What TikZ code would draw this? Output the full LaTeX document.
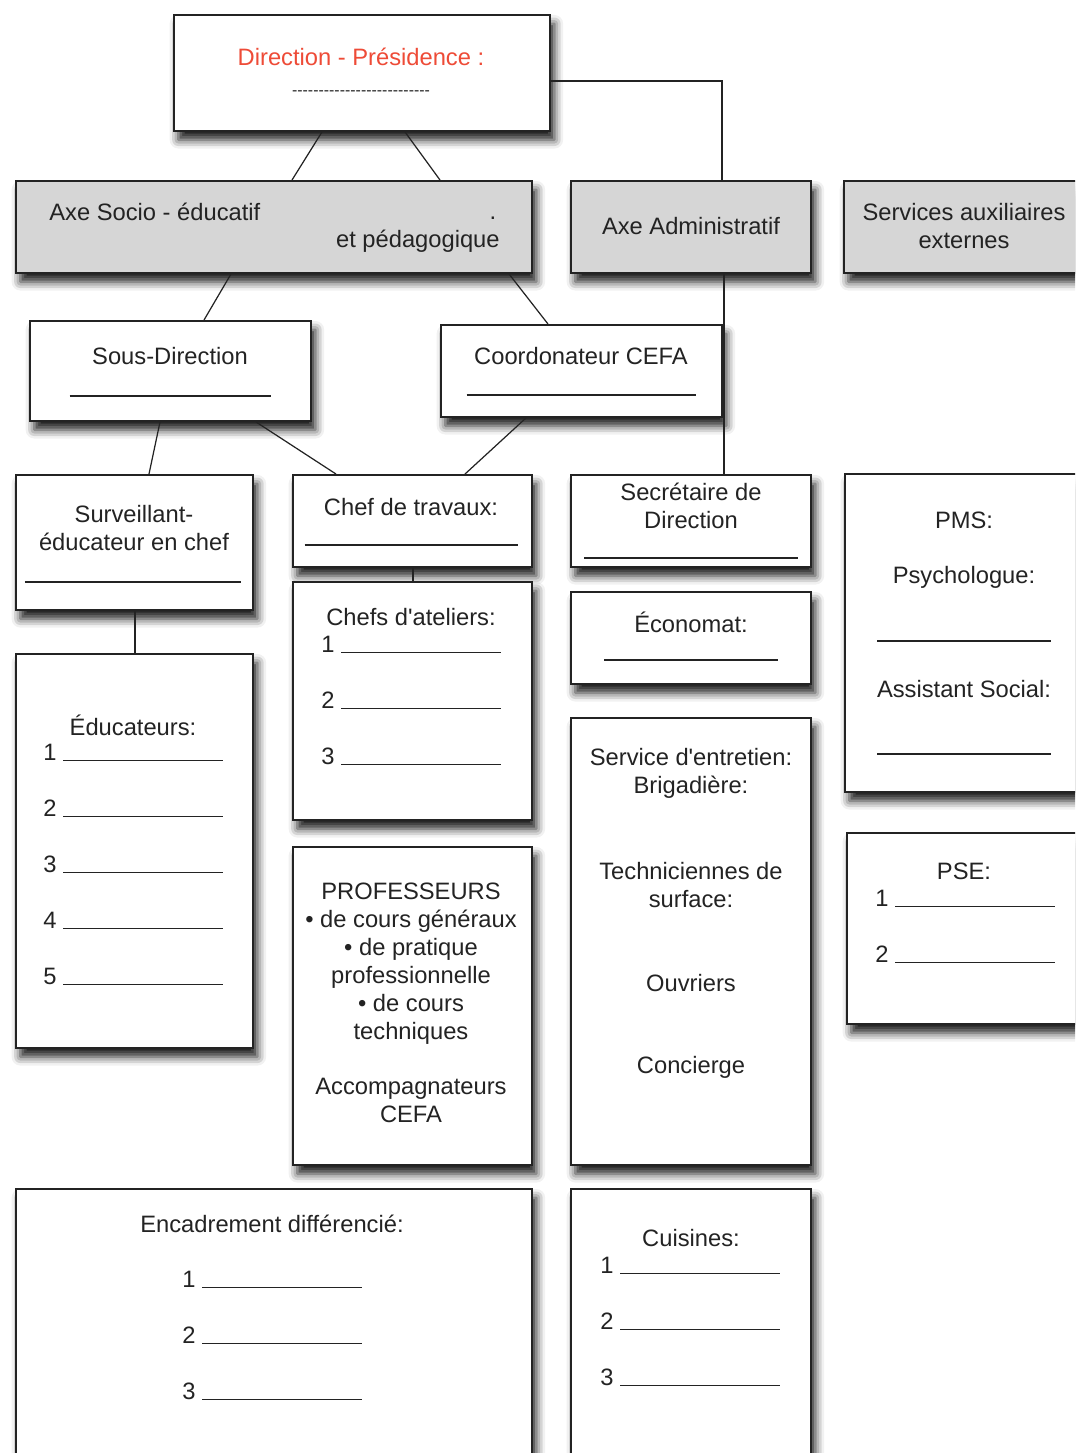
\documentclass[tikz,border=0pt]{standalone}
\usepackage{fontspec}
\setmainfont{Liberation Sans}
\usepackage{tikz}
\usetikzlibrary{positioning,fit,shadows.blur}
\definecolor{orgred}{RGB}{238,75,55}
\definecolor{orggrey}{RGB}{214,214,214}
\definecolor{orgink}{RGB}{35,35,35}
\newlength\pxu
\setlength\pxu{0.02cm}
\newcommand{\blankrule}[1]{\rule[-0.6pt]{#1\pxu}{0.7pt}}
\tikzset{
  orgbox/.style={draw=orgink, line width=1.1pt, fill=white, inner sep=0pt,
    blur shadow={shadow xshift=2.5pt, shadow yshift=-5pt, shadow blur radius=5pt, shadow opacity=90}},
  axebox/.style={orgbox, fill=orggrey},
  lbl/.style={font=\fontsize{13.5}{15.9}\selectfont, text=orgink, inner sep=0pt, align=center},
  item/.style={lbl, anchor=base west},
  link/.style={draw=orgink, line width=0.7pt}
}

\begin{document}
\begin{tikzpicture}[x=0.02cm, y=-0.02cm]
  \useasboundingbox (0,0) rectangle (1075,1453);
  \clip (0,0) rectangle (1075,1453);
  % Direction
  \node[orgbox, fit={(174,15) (550,131)}] (dir) {};
  \node[lbl, text=orgred] (dir-t) at (361,57) {Direction - Présidence :};
  \node[lbl] (dir-d) at (361,93) {\fontsize{9}{9}\selectfont\makebox[138\pxu]{\xleaders\hbox{-}\hfill}};
  % Axes
  \node[axebox, fit={(16,181) (532,273)}] (axesoc) {};
  \node[lbl, anchor=base west] (axesoc-t) at (49,220) {Axe Socio - éducatif};
  \node[lbl, anchor=base east] (axesoc-p) at (500,248) {et pédagogique};
  \node[lbl, anchor=base] (axesoc-dot) at (493,219) {.};
  \node[axebox, fit={(571,181) (811,273)}] (axeadm) {};
  \node[lbl] (axeadm-t) at (691,226) {Axe Administratif};
  \node[axebox, fit={(844,181) (1095,273)}] (aux) {};
  \node[lbl] (aux-t) at (964,226) {Services auxiliaires\\externes};
  % Second level
  \node[orgbox, fit={(30,321) (311,421)}] (sousdir) {};
  \node[lbl] (sousdir-t) at (170,356) {Sous-Direction};
  \node[lbl] (sousdir-l) at (170,396) {\blankrule{201}};
  \node[orgbox, fit={(441,325) (722,417)}] (coord) {};
  \node[lbl] (coord-t) at (581,356) {Coordonateur CEFA};
  \node[lbl] (coord-l) at (581,395) {\blankrule{229}};
  % Socio-educatif column
  \node[orgbox, fit={(16,475) (253,610)}] (surv) {};
  \node[lbl] (surv-t) at (134,528) {Surveillant-\\éducateur en chef};
  \node[lbl] (surv-l) at (133,582) {\blankrule{216}};
  \node[orgbox, fit={(16,654) (253,1048)}] (educ) {};
  \node[lbl] (educ-t) at (133,725) {Éducateurs:};
  \foreach \y [count=\k] in {753,809,865,921,977}
    \node[item] (educ-\k) at (43,\y+7) {\k\ \blankrule{160}};
  % Pedagogique column
  \node[orgbox, fit={(293,475) (532,567)}] (chef) {};
  \node[lbl] (chef-t) at (411,507) {Chef de travaux:};
  \node[lbl] (chef-l) at (411,545) {\blankrule{213}};
  \node[orgbox, fit={(293,582) (532,820)}] (atel) {};
  \node[lbl] (atel-t) at (411,617) {Chefs d\textquotesingle ateliers:};
  \foreach \y [count=\k] in {645,701,757}
    \node[item] (atel-\k) at (321,\y+7) {\k\ \blankrule{160}};
  \node[orgbox, fit={(293,847) (532,1165)}] (prof) {};
  \node[lbl] (prof-t) at (411,1003) {PROFESSEURS\\• de cours généraux\\• de pratique\\professionnelle\\• de cours\\techniques\\[15.9pt]Accompagnateurs\\CEFA};
  % Administratif column
  \node[orgbox, fit={(571,475) (811,567)}] (secr) {};
  \node[lbl] (secr-t) at (691,506) {Secrétaire de\\Direction};
  \node[lbl] (secr-l) at (691,558) {\blankrule{214}};
  \node[orgbox, fit={(571,592) (811,684)}] (econ) {};
  \node[lbl] (econ-t) at (691,622) {Économat:};
  \node[lbl] (econ-l) at (691,660) {\blankrule{174}};
  \node[orgbox, fit={(571,718) (811,1165)}] (entr) {};
  \node[lbl] (entr-t) at (691,773) {Service d\textquotesingle entretien:\\Brigadière:};
  \node[lbl] (entr-s) at (691,885) {Techniciennes de\\surface:};
  \node[lbl] (entr-o) at (691,983) {Ouvriers};
  \node[lbl] (entr-c) at (691,1067) {Concierge};
  % Services auxiliaires column
  \node[orgbox, fit={(845,474) (1095,792)}] (pms) {};
  \node[lbl] (pms-t) at (964,520) {PMS:};
  \node[lbl] (pms-p) at (964,577) {Psychologue:};
  \node[lbl] (pms-pl) at (964,641) {\blankrule{174}};
  \node[lbl] (pms-a) at (964,689) {Assistant Social:};
  \node[lbl] (pms-al) at (964,754) {\blankrule{174}};
  \node[orgbox, fit={(847,833) (1095,1024)}] (pse) {};
  \node[lbl] (pse-t) at (964,871) {PSE:};
  \foreach \y [count=\k] in {899,955}
    \node[item] (pse-\k) at (875,\y+7) {\k\ \blankrule{160}};
  % Bottom row
  \node[orgbox, fit={(16,1189) (532,1490)}] (enc) {};
  \node[lbl] (enc-t) at (272,1224) {Encadrement différencié:};
  \foreach \y [count=\k] in {1280,1336,1392}
    \node[item] (enc-\k) at (182,\y+7) {\k\ \blankrule{160}};
  \node[orgbox, fit={(571,1189) (811,1490)}] (cuis) {};
  \node[lbl] (cuis-t) at (691,1238) {Cuisines:};
  \foreach \y [count=\k] in {1266,1322,1378}
    \node[item] (cuis-\k) at (600,\y+7) {\k\ \blankrule{160}};
  % Links
  \draw[link] (322,0 |- dir.south) -- (292,0 |- axesoc.north);
  \draw[link] (405,0 |- dir.south) -- (440,0 |- axesoc.north);
  \draw[link] (dir.east |- 0,81) -| (722,0 |- axeadm.north);
  \draw[link] (231,0 |- axesoc.south) -- (204,0 |- sousdir.north);
  \draw[link] (509,0 |- axesoc.south) -- (548,0 |- coord.north);
  \draw[link] (724,0 |- axeadm.south) -- (724,0 |- secr.north);
  \draw[link] (160,0 |- sousdir.south) -- (149,0 |- surv.north);
  \draw[link] (256,0 |- sousdir.south) -- (336,0 |- chef.north);
  \draw[link] (526,0 |- coord.south) -- (465,0 |- chef.north);
  \draw[link] (413,0 |- chef.south) -- (413,0 |- atel.north);
  \draw[link] (135,0 |- surv.south) -- (135,0 |- educ.north);
\end{tikzpicture}
\end{document}
